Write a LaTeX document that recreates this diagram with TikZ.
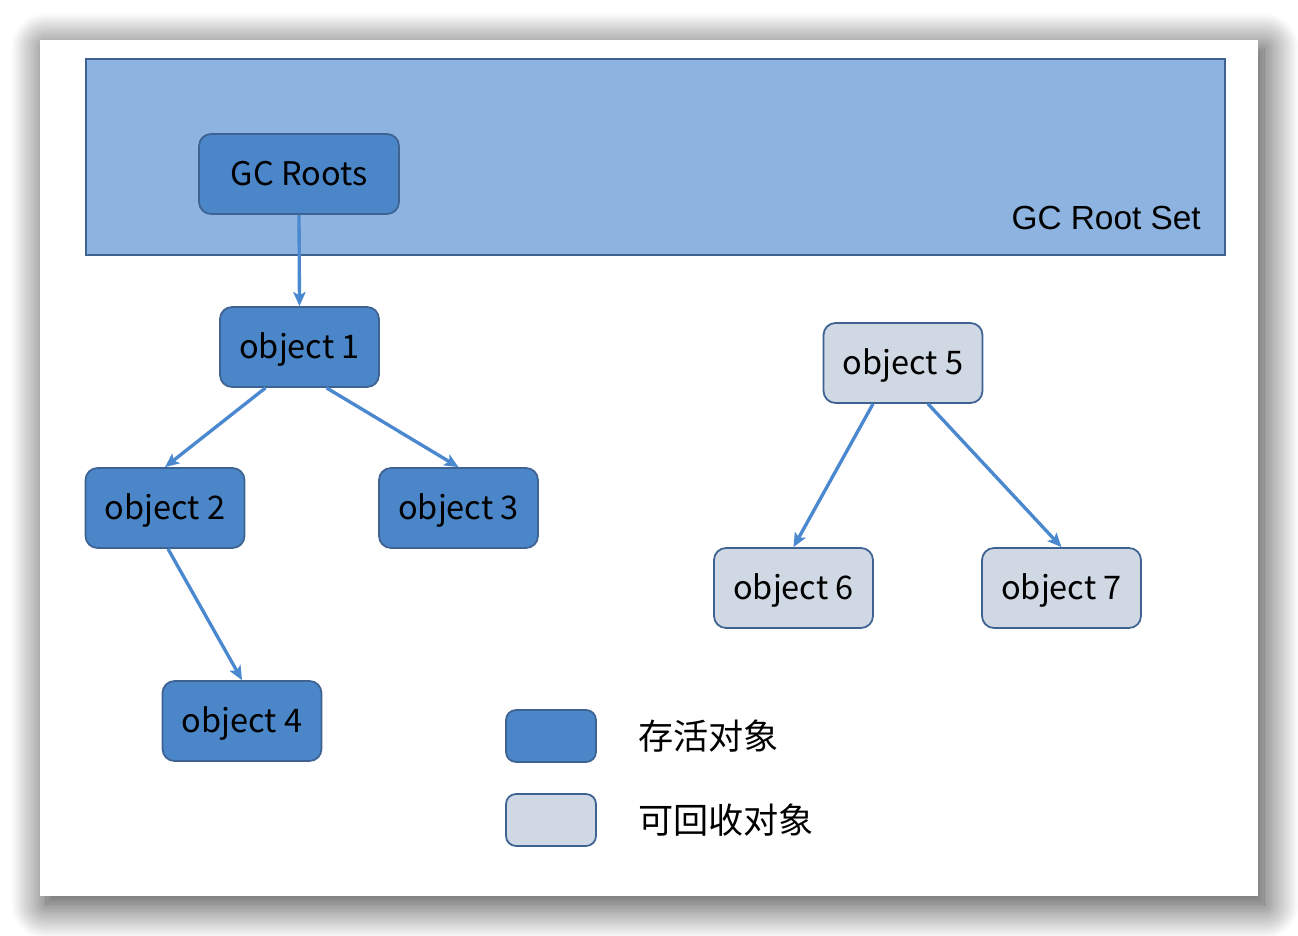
\documentclass[tikz,border=0pt]{standalone}
\usepackage{fontspec}
\setmainfont{Noto Sans CJK SC}
\newfontfamily\setfont{Liberation Sans}
\usetikzlibrary{arrows.meta,shadows.blur,calc}
\definecolor{liveblue}{RGB}{74,134,200}
\definecolor{deadgray}{RGB}{208,216,228}
\definecolor{edgeblue}{RGB}{62,98,146}
\definecolor{setblue}{RGB}{141,180,224}
\definecolor{linkblue}{RGB}{74,136,208}

\begin{document}
\begin{tikzpicture}[x=0.02cm,y=-0.02cm,
  obj/.style={draw=edgeblue, line width=1pt, rounded corners=0.24cm,
    minimum width=3.18cm, minimum height=1.6cm, inner sep=0pt,
    text height=1.32em, text depth=0em,
    font=\fontsize{18.5}{20}\selectfont},
  live/.style={obj, fill=liveblue},
  dead/.style={obj, fill=deadgray},
  key/.style={minimum width=1.8cm, minimum height=1.04cm, rounded corners=0.2cm},
  link/.style={draw=linkblue, line width=1.9pt, -{Stealth[length=8pt,width=7pt,inset=1.8pt]}}]
  \useasboundingbox (0,0) rectangle (1298,936);
  % Page with shadow
  \fill[white, blur shadow={shadow xshift=0.12cm, shadow yshift=-0.16cm,
    shadow blur radius=0.7cm, shadow blur steps=25, shadow opacity=80}] (40,40) rectangle (1258,896);
  % Root set
  \draw[edgeblue, fill=setblue, line width=1pt] (86,59) rectangle (1225,255);
  \node[anchor=east, font=\setfont\fontsize{19}{22}\selectfont] (setlabel) at (1207,218) {GC Root Set};
  \node[live, minimum width=4cm] (roots) at (299,174) {GC Roots};
  % Objects
  \foreach \n/\x/\y/\s in {1/299.5/347/live, 2/165/508/live, 3/458.5/508/live, 4/242/721/live,
                           5/903/363/dead, 6/793.5/588/dead, 7/1061.5/588/dead} {
    \node[\s] (o\n) at (\x,\y) {object \n};
  }
  % References
  \draw[link] (roots.south) -- (o1.north);
  \draw[link] ($(o1.south)+(-34,0)$) -- (o2.north);
  \draw[link] ($(o1.south)+(27,0)$) -- (o3.north);
  \draw[link] ($(o2.south)+(3,0)$) -- (o4.north);
  \draw[link] ($(o5.south)+(-30,0)$) -- (o6.north);
  \draw[link] ($(o5.south)+(25,0)$) -- (o7.north);
  % Legend
  \node[live, key] (keylive) at (551,736) {};
  \node[dead, key] (keydead) at (551,820) {};
  \node[anchor=west, font=\fontsize{20}{22}\selectfont] (livetext) at (632,736) {存活对象};
  \node[anchor=west, font=\fontsize{20}{22}\selectfont] (deadtext) at (632,820) {可回收对象};
\end{tikzpicture}
\end{document}
